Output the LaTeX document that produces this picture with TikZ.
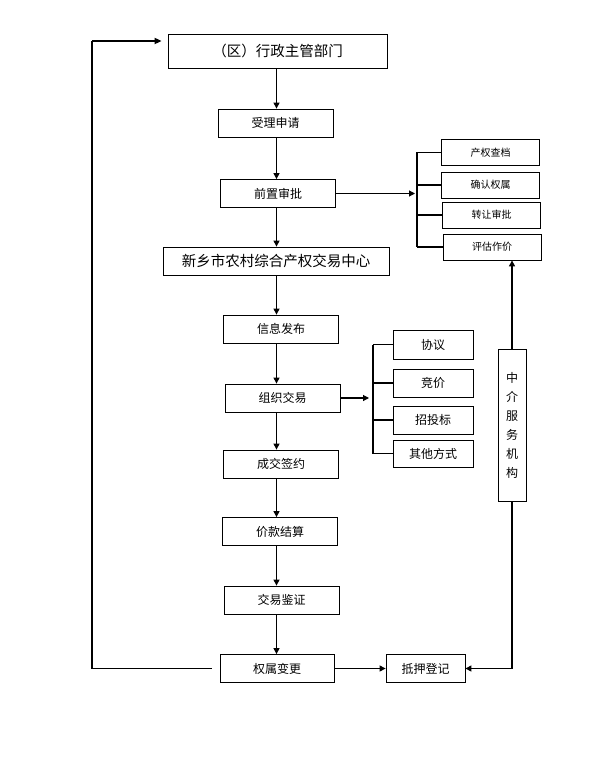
\documentclass[tikz,border=0pt]{standalone}
\usepackage{fontspec}
\setmainfont{Noto Sans CJK SC}
\usetikzlibrary{positioning, arrows.meta}
\tikzset{
  box/.style={draw, line width=0.8pt, minimum width=115pt, minimum height=28pt, inner sep=0pt,
    font=\fontsize{12}{12}\selectfont},
  bigbox/.style={box, font=\fontsize{14.5}{14.5}\selectfont},
  checkbox/.style={box, minimum width=98pt, minimum height=26pt, font=\fontsize{10}{10}\selectfont},
  waybox/.style={box, minimum width=80pt},
  flow/.style={-{Triangle[length=6pt,width=6pt]}, line width=1.1pt},
  bracket/.style={line width=1.8pt},
}

\begin{document}
\begin{tikzpicture}[x=1pt,y=-1pt]
\useasboundingbox (0,0) rectangle (591,770);
% main column
\node[bigbox, minimum width=219pt, minimum height=34pt] at (277.5,51) (dept) {（区）行政主管部门};
\node[box] at (275.5,123) (accept) {受理申请};
\node[box] at (278,193.5) (approve) {前置审批};
\node[bigbox, minimum width=226pt] at (276,261) (center) {新乡市农村综合产权交易中心};
\node[box] at (281,329) (publish) {信息发布};
\node[box] at (282.5,398) (trade) {组织交易};
\node[box] at (281,464) (sign) {成交签约};
\node[box] at (280,531.5) (settle) {价款结算};
\node[box] at (281.5,600) (verify) {交易鉴证};
\node[box, minimum width=114pt] at (277,668.5) (change) {权属变更};
\node[box, minimum width=79pt] at (425.5,668.5) (mortgage) {抵押登记};
% checks
\node[checkbox] at (490.5,152.5) (archive) {产权查档};
\node[checkbox] at (490.5,185) (confirm) {确认权属};
\node[checkbox] at (491.5,215) (transfer) {转让审批};
\node[checkbox] at (492,247) (eval) {评估作价};
% trading ways
\node[waybox, minimum height=29pt] at (433,344.5) (agree) {协议};
\node[waybox] at (433,383) (bid) {竞价};
\node[waybox] at (433,420) (tender) {招投标};
\node[waybox, minimum height=27pt] at (433,453.5) (other) {其他方式};
% agency
\node[box, minimum width=28pt, minimum height=152pt, align=center,
  font=\fontsize{12}{19}\selectfont] at (512,425) (agency) {中\\介\\服\\务\\机\\构};

\coordinate (col) at (276.5,0);
\coordinate (j1) at (417,193.5);
\coordinate (j2) at (373,398);
\coordinate (fbl) at (92,668.5);
\coordinate (fbt) at (92,41);

\draw[flow] (dept.south -| col) -- (accept.north -| col);
\draw[flow] (accept.south -| col) -- (approve.north -| col);
\draw[flow] (approve.south -| col) -- (center.north -| col);
\draw[flow] (center.south -| col) -- (publish.north -| col);
\draw[flow] (publish.south -| col) -- (trade.north -| col);
\draw[flow] (trade.south -| col) -- (sign.north -| col);
\draw[flow] (sign.south -| col) -- (settle.north -| col);
\draw[flow] (settle.south -| col) -- (verify.north -| col);
\draw[flow] (verify.south -| col) -- (change.north -| col);
\draw[flow] (change) -- (mortgage);
\draw[flow] (agency.south) |- (mortgage.east);
\draw[flow] (agency.north) -- (agency.north |- eval.south);

\draw[flow, shorten >=2pt] (approve) -- (j1);
\draw[bracket] (archive.west -| j1) -- (eval.west -| j1);
\draw[bracket] (archive.west -| j1) -- (archive.west);
\draw[bracket] (confirm.west -| j1) -- (confirm.west);
\draw[bracket] (transfer.west -| j1) -- (transfer.west);
\draw[bracket] (eval.west -| j1) -- (eval.west);

\draw[flow, shorten >=4pt] (trade) -- (j2);
\draw[bracket] (agree.west -| j2) -- (other.west -| j2);
\draw[bracket] (agree.west -| j2) -- (agree.west);
\draw[bracket] (bid.west -| j2) -- (bid.west);
\draw[bracket] (tender.west -| j2) -- (tender.west);
\draw[bracket] (other.west -| j2) -- (other.west);

\draw[bracket, shorten <=8pt] (change.west) -- (fbl) -- (fbt);
\draw[bracket, -{Triangle[length=7pt,width=6pt]}, shorten >=6pt] (fbt) -- (fbt -| dept.west);
\end{tikzpicture}
\end{document}
